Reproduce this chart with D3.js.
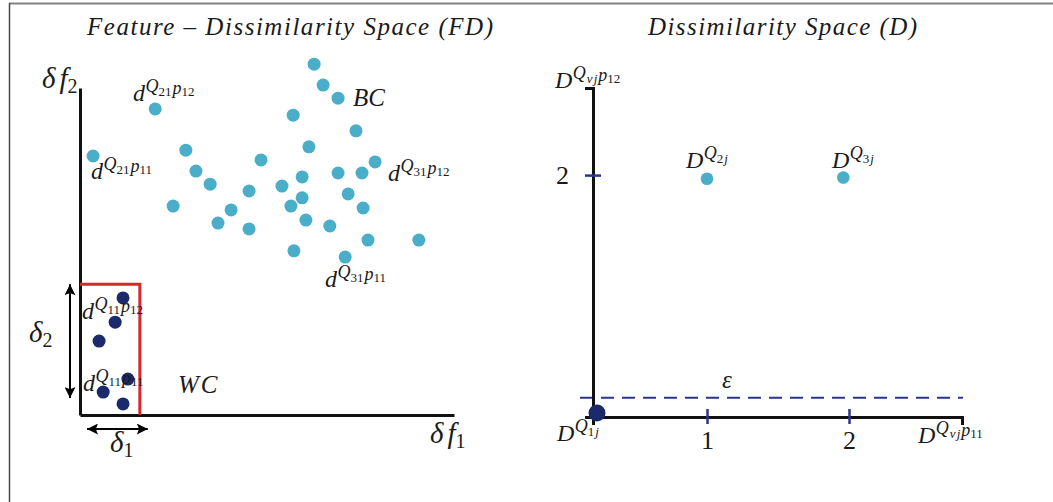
<!DOCTYPE html>
<html><head><meta charset="utf-8">
<script src="https://cdn.jsdelivr.net/npm/d3@7"></script>
<style>
html,body{margin:0;padding:0;background:#fff;}
svg{display:block;}
text{font-family:"Liberation Serif","Times New Roman",serif;fill:#1a1a1a;}
</style>
</head><body>
<svg id="c" width="1053" height="502"></svg>
<script>
// ---------------- DATA ----------------
const panelTitles = ["Feature \u2013 Dissimilarity Space (FD)", "Dissimilarity Space (D)"];
// Between-class (BC) points in feature-dissimilarity space [δf1, δf2]
const bcPoints = [
  [6.26,10.73],[6.50,10.09],[6.90,9.69],[2.01,9.36],[5.70,9.17],[7.38,8.69],
  [6.12,8.20],[0.35,7.92],[2.83,8.10],[3.10,7.46],[3.48,7.06],[4.84,7.80],
  [7.89,7.74],[6.90,7.40],[7.54,7.40],[5.94,7.28],[5.40,7.00],[4.52,6.85],
  [7.17,6.76],[5.94,6.64],[5.64,6.39],[7.57,6.33],[2.49,6.39],[4.04,6.27],
  [3.69,5.87],[4.52,5.69],[6.04,5.96],[6.68,5.78],[7.70,5.35],[9.06,5.35],
  [5.72,5.02],[7.09,4.83]
];
// Within-class (WC) points
const wcPoints = [[1.15,3.58],[0.94,2.84],[0.51,2.26],[1.28,1.10],[0.62,0.70],[1.15,0.34]];
const delta1 = 1.6, delta2 = 4.0;
const fdAxisMax = 10;
// Dissimilarity space points
const dPoints = [
  {id:"1", x:0.035, y:0.033},
  {id:"2", x:1.0,  y:1.97},
  {id:"3", x:1.96, y:1.98}
];
const epsilon = 0.16;
const dXTicks = [1, 2];
const dYTicks = [2];
const dXMax = 2.8, dYMax = 2.72;

// ---------------- STYLE ----------------
const TEAL = "#4aaec9", NAVY = "#1b2a6b", RED = "#d9262b", TICK = "#2b3590";

const svg = d3.select("#c");

// frame
svg.append("line").attr("x1",9).attr("x2",1053).attr("y1",3.5).attr("y2",3.5)
  .attr("stroke","#808080").attr("stroke-width",2);
svg.append("line").attr("x1",9.5).attr("x2",9.5).attr("y1",3).attr("y2",502)
  .attr("stroke","#4a4a4a").attr("stroke-width",1.5);

// math text helper: parts {t, s, r (raise px), i (italic)}
function mathText(g, x, y, parts, anchor){
  const t = g.append("text").attr("x",x).attr("y",y).attr("text-anchor",anchor||"start");
  let prev = 0;
  parts.forEach(p => {
    const r = p.r||0;
    t.append("tspan").text(p.t)
      .attr("font-size",p.s)
      .attr("font-style",p.i===false?"normal":"italic")
      .attr("dy",prev - r)
      .attr("dx",p.dx||0);
    prev = r;
  });
  return t;
}
function subParts(s){
  // digits upright, letters italic
  return s.split("").map(ch => ({t:ch, s:13, r:5, i:/[a-z]/.test(ch), dx:/[a-z]/.test(ch)?1:0}));
}
function dLabel(g,x,y,base,sub1,sub2){
  let parts=[{t:base,s:24},{t:"Q",s:18,r:9,dx:0.5}].concat(subParts(sub1));
  if(sub2!==undefined){parts.push({t:"p",s:18,r:7,dx:1}); parts = parts.concat(subParts(sub2));}
  return mathText(g,x,y,parts);
}

// arrow marker
const defs = svg.append("defs");
defs.append("marker").attr("id","ah").attr("viewBox","0 0 10 10").attr("refX",10).attr("refY",5)
  .attr("markerWidth",13).attr("markerHeight",11).attr("markerUnits","userSpaceOnUse").attr("orient","auto-start-reverse")
  .append("path").attr("d","M0,0 L10,5 L0,10 L2,5 Z").attr("fill","#000");

// ================= LEFT PANEL =================
const xL = d3.scaleLinear().domain([0,fdAxisMax]).range([80,454]);
const yL = d3.scaleLinear().domain([0,fdAxisMax]).range([415,88]);
const gL = svg.append("g");

gL.append("text").attr("x",87).attr("y",35).attr("font-size",25).attr("font-style","italic")
  .attr("textLength",406).attr("lengthAdjust","spacing").text(panelTitles[0]);

// points
gL.selectAll("circle.bc").data(bcPoints).join("circle").attr("class","bc")
  .attr("cx",d=>xL(d[0])).attr("cy",d=>yL(d[1])).attr("r",6.5).attr("fill",TEAL);

// axes
gL.append("g").attr("transform",`translate(0,${yL(0)})`)
  .call(d3.axisBottom(xL).tickValues([]).tickSizeOuter(0))
  .call(a=>a.select(".domain").attr("stroke","#111").attr("stroke-width",3));
gL.append("g").attr("transform",`translate(${xL(0)},0)`)
  .call(d3.axisLeft(yL).tickValues([]).tickSizeOuter(0))
  .call(a=>a.select(".domain").attr("stroke","#111").attr("stroke-width",3));

// WC box (red): top and right sides
gL.append("path")
  .attr("d",`M${xL(0)},${yL(delta2)} H${xL(delta1)} V${yL(0)}`)
  .attr("fill","none").attr("stroke",RED).attr("stroke-width",3);

gL.selectAll("circle.wc").data(wcPoints).join("circle").attr("class","wc")
  .attr("cx",d=>xL(d[0])).attr("cy",d=>yL(d[1])).attr("r",6.5).attr("fill",NAVY);

// delta arrows
gL.append("line").attr("x1",xL(0)-10).attr("x2",xL(0)-10).attr("y1",yL(delta2)).attr("y2",yL(0)-17)
  .attr("stroke","#000").attr("stroke-width",2)
  .attr("marker-start","url(#ah)").attr("marker-end","url(#ah)");
gL.append("line").attr("x1",xL(0)+7).attr("x2",xL(delta1)+8).attr("y1",yL(0)+14).attr("y2",yL(0)+14)
  .attr("stroke","#000").attr("stroke-width",2)
  .attr("marker-start","url(#ah)").attr("marker-end","url(#ah)");

mathText(gL,29,342,[{t:"\u03b4",s:29},{t:"2",s:20,r:-5,i:false}]);
mathText(gL,110,452,[{t:"\u03b4",s:29},{t:"1",s:20,r:-5,i:false}]);
mathText(gL,430,443,[{t:"\u03b4",s:29},{t:"f",s:29,dx:4},{t:"1",s:20,r:-5,i:false}]);
mathText(gL,42,88,[{t:"\u03b4",s:29},{t:"f",s:29,dx:4},{t:"2",s:20,r:-5,i:false}]);

gL.append("text").attr("x",353).attr("y",106).attr("font-size",25).attr("font-style","italic").text("BC");
gL.append("text").attr("x",178).attr("y",393).attr("font-size",25).attr("font-style","italic")
  .attr("letter-spacing",2).text("WC");

dLabel(gL,133,101,"d","21","12");
dLabel(gL,91,179,"d","21","11");
dLabel(gL,388,181,"d","31","12");
dLabel(gL,325,287,"d","31","11");
dLabel(gL,82,319,"d","11","12");
dLabel(gL,83,391,"d","11","11");

// ================= RIGHT PANEL =================
const xR = d3.scaleLinear().domain([0,1,2,dXMax]).range([593,707,849,962]);
const yR = d3.scaleLinear().domain([0,dYMax]).range([417,88]);
const gR = svg.append("g");

gR.append("text").attr("x",648).attr("y",35).attr("font-size",25).attr("font-style","italic")
  .attr("textLength",269).attr("lengthAdjust","spacing").text(panelTitles[1]);

// epsilon dashed line
gR.append("line").attr("x1",xR(0)-13).attr("x2",xR(dXMax)+1).attr("y1",yR(epsilon)).attr("y2",yR(epsilon))
  .attr("stroke",TICK).attr("stroke-width",2).attr("stroke-dasharray","13,8");
mathText(gR,xR(1)+20,388,[{t:"\u03b5",s:25}],"middle");

// axes
gR.append("g").attr("transform",`translate(0,${yR(0)})`)
  .call(d3.axisBottom(xR).tickValues(dXTicks).tickFormat(d3.format("d")).tickSizeOuter(0).tickSize(8).tickPadding(5))
  .call(a=>{
    a.select(".domain").attr("stroke","#111").attr("stroke-width",3);
    a.selectAll(".tick line").attr("y1",-8).attr("y2",7).attr("stroke",TICK).attr("stroke-width",2.5);
    a.selectAll(".tick text").attr("font-size",26).attr("font-family","Liberation Serif, serif").attr("fill","#1a1a1a").attr("dy","0.72em");
  });
gR.append("g").attr("transform",`translate(${xR(0)},0)`)
  .call(d3.axisLeft(yR).tickValues(dYTicks).tickFormat(d3.format("d")).tickSizeOuter(0).tickSize(8).tickPadding(16))
  .call(a=>{
    a.select(".domain").attr("stroke","#111").attr("stroke-width",3);
    a.selectAll(".tick line").attr("x1",-8).attr("x2",8).attr("stroke",TICK).attr("stroke-width",2.5);
    a.selectAll(".tick text").attr("font-size",26).attr("font-family","Liberation Serif, serif").attr("fill","#1a1a1a");
  });

// points
gR.selectAll("circle.dp").data(dPoints).join("circle").attr("class","dp")
  .attr("cx",d=>xR(d.x)).attr("cy",d=>yR(d.y))
  .attr("r",d=>d.id==="1"?8.5:6.3)
  .attr("fill",d=>d.id==="1"?NAVY:TEAL);

// labels
dLabel(gR,555,88,"D","vj","12");
dLabel(gR,918,443,"D","vj","11");
dLabel(gR,686,168,"D","2j");
dLabel(gR,832,168,"D","3j");
dLabel(gR,557,441,"D","1j");
</script>
</body></html>
